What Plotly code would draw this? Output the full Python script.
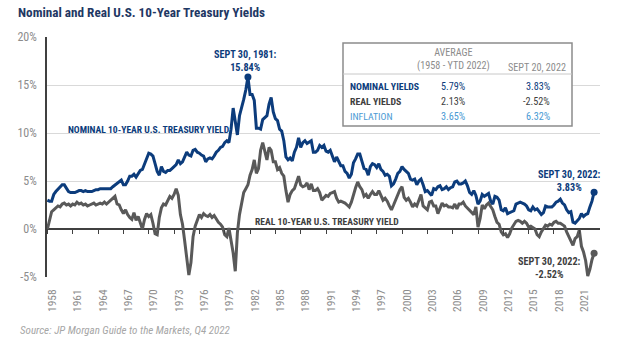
import plotly.graph_objects as go

# ---------------- data (quarterly readings, Q1..Q4 each year) ----------------
years = list(range(1958, 2023))

nominal_q = [
    [3.0, 2.9, 2.9, 3.6], [3.9, 4.1, 4.4, 4.6], [4.6, 4.3, 3.9, 3.8], [3.8, 3.8, 3.9, 4.0],
    [4.0, 3.9, 4.0, 3.9], [3.9, 3.9, 4.0, 4.1], [4.1, 4.2, 4.2, 4.2], [4.2, 4.2, 4.2, 4.4],
    [4.6, 4.8, 5.0, 5.1], [4.6, 4.6, 5.0, 5.5], [5.5, 5.7, 5.4, 5.7], [6.1, 6.2, 6.8, 7.3],
    [7.9, 7.8, 7.6, 6.8], [6.0, 5.6, 6.5, 6.0], [5.9, 6.1, 6.1, 6.3], [6.5, 6.7, 7.2, 6.8],
    [7.0, 7.5, 8.0, 7.7], [7.6, 8.2, 8.3, 8.0], [7.9, 7.7, 7.6, 7.0], [7.3, 7.4, 7.3, 7.6],
    [8.0, 8.2, 8.5, 8.6], [9.0, 9.2, 9.0, 10.4], [12.6, 11.2, 9.8, 11.8], [12.6, 13.5, 14.5, 15.84],
    [14.0, 14.0, 13.4, 10.5], [10.5, 10.4, 11.4, 11.6], [11.8, 13.0, 13.7, 12.2], [11.5, 11.3, 10.4, 10.2],
    [9.2, 7.5, 7.2, 7.4], [7.1, 8.0, 8.5, 9.5], [8.5, 9.0, 9.2, 8.9], [9.1, 9.2, 8.0, 8.0],
    [8.2, 8.7, 8.5, 8.7], [8.1, 8.0, 8.2, 7.5], [7.0, 7.5, 7.0, 6.6], [6.6, 6.0, 5.8, 5.3],
    [5.7, 6.9, 7.3, 7.8], [7.8, 7.1, 6.3, 6.2], [5.6, 6.5, 6.8, 6.7], [6.4, 6.8, 6.2, 6.0],
    [5.6, 5.7, 5.5, 4.5], [4.7, 5.2, 5.8, 6.0], [6.5, 6.2, 6.0, 5.8], [5.2, 5.1, 5.2, 4.6],
    [5.0, 5.2, 4.6, 3.9], [4.0, 3.8, 3.5, 4.2], [4.1, 4.4, 4.5, 4.1], [4.2, 4.4, 4.1, 4.3],
    [4.4, 4.9, 5.0, 4.7], [4.7, 4.8, 5.0, 4.5], [3.8, 3.6, 4.0, 3.5], [2.6, 2.9, 3.6, 3.4],
    [3.6, 3.7, 2.9, 2.6], [3.4, 3.3, 3.0, 2.0], [1.9, 2.2, 1.6, 1.7], [1.8, 1.9, 2.6, 2.7],
    [2.8, 2.7, 2.6, 2.4], [2.0, 1.9, 2.3, 2.0], [2.1, 1.8, 1.5, 1.7], [2.4, 2.3, 2.3, 2.3],
    [2.5, 2.8, 2.9, 3.1], [2.7, 2.5, 2.0, 1.7], [1.8, 0.7, 0.6, 0.8], [1.1, 1.6, 1.3, 1.5],
    [1.6, 2.3, 2.9, 3.83],
]

real_q = [
    [0.0, 0.8, 1.8, 2.0], [2.2, 2.4, 2.3, 2.6], [2.7, 2.5, 2.6, 2.4], [2.6, 2.5, 2.8, 2.6],
    [2.7, 2.5, 2.6, 2.4], [2.5, 2.6, 2.7, 2.5], [2.6, 2.7, 2.6, 2.8], [2.6, 2.8, 3.0, 3.2],
    [3.4, 2.6, 2.5, 2.0], [1.6, 2.0, 1.5, 1.2], [1.0, 1.7, 0.9, 1.3], [0.6, 0.0, 1.0, 1.6],
    [1.3, 1.5, 0.6, -0.5], [-0.6, 1.2, 2.2, 2.6], [2.5, 3.0, 3.4, 3.2], [3.6, 4.2, 3.5, 1.5],
    [0.5, -1.2, -3.0, -4.8], [-3.5, -0.8, 0.3, 1.0], [1.5, 1.2, 1.6, 1.4], [1.3, 1.5, 1.2, 1.4],
    [1.0, 0.7, 0.5, 0.2], [-0.6, -0.8, 0.1, -1.2], [-2.5, -4.4, -0.4, 1.5], [2.7, 3.8, 4.2, 4.6],
    [5.6, 6.2, 7.2, 5.8], [6.3, 8.2, 9.0, 8.1], [7.2, 8.5, 8.2, 7.0], [7.0, 6.2, 6.4, 5.8],
    [5.5, 4.0, 2.8, 3.6], [4.0, 4.2, 4.8, 5.5], [4.6, 4.4, 4.5, 4.8], [4.1, 4.7, 4.0, 4.0],
    [4.2, 3.8, 3.0, 3.2], [3.5, 3.4, 3.7, 3.8], [3.9, 3.2, 2.8, 2.9], [2.8, 2.7, 2.5, 2.3],
    [2.8, 3.7, 4.3, 4.9], [4.4, 4.1, 3.4, 3.6], [3.2, 3.6, 3.9, 3.6], [3.6, 4.0, 3.5, 3.0],
    [3.2, 2.9, 2.4, 2.0], [2.5, 3.0, 3.6, 4.1], [4.4, 3.3, 3.0, 3.2], [2.8, 2.3, 2.6, 2.4],
    [3.0, 3.6, 2.4, 2.2], [2.0, 2.8, 2.9, 2.4], [2.4, 1.6, 2.2, 2.7], [2.4, 2.5, 2.3, 2.3],
    [2.2, 2.6, 2.1, 2.6], [2.6, 2.8, 2.4, 2.2], [2.0, 1.8, 1.5, 2.3], [0.2, 1.1, 2.5, 2.1],
    [2.5, 2.7, 2.4, 2.0], [1.3, 0.7, 0.5, -0.3], [-0.6, -0.5, -0.9, -0.5], [0.1, 0.4, 0.8, 0.9],
    [0.8, 0.6, 0.8, 0.6], [0.2, 0.3, 0.1, 0.0], [-0.6, -0.8, -0.3, 0.1], [0.4, 0.3, 0.5, 0.4],
    [0.7, 0.8, 0.6, 0.6], [0.4, 0.3, -0.3, -0.8], [-1.2, -1.7, -1.0, -0.8], [-0.1, -1.8, -2.4, -3.3],
    [-4.9, -4.2, -3.2, -2.52],
]

quarters = [0.0, 0.25, 0.5, 0.75]
tick_years = list(range(1958, 2022, 3))
tick_labels = [str(y) for y in tick_years]
y_ticks = [-5, 0, 5, 10, 15, 20]
y_tick_labels = [f"{v}%" for v in y_ticks]

peak_1981 = (1981.75, 15.84)
end_nominal = (2022.75, 3.83)
end_real = (2022.75, -2.52)

table_header = ["AVERAGE<br>(1958 - YTD 2022)", "SEPT 20, 2022"]
table_rows = ["NOMINAL YIELDS", "REAL YIELDS", "INFLATION"]
table_avg = ["5.79%", "2.13%", "3.65%"]
table_now = ["3.83%", "-2.52%", "6.32%"]

# ---------------- build series ----------------
x = []
nominal = []
real = []
for yr, nq, rq in zip(years, nominal_q, real_q):
    for q, nv, rv in zip(quarters, nq, rq):
        x.append(yr + q)
        nominal.append(nv)
        real.append(rv)

NAVY = "#0c3c7c"
GRAY = "#595959"
LIGHTBLUE = "#4a9ad4"
FONT = "Liberation Sans Narrow, Roboto Condensed, Arial Narrow, Liberation Sans, sans-serif"
BOLD = FONT

W, H = 624, 342
L, R, T, B = 47, 24, 37, 65

fig = go.Figure()
fig.add_trace(go.Scatter(x=x, y=real, mode="lines", line=dict(color=GRAY, width=3),
                         hoverinfo="skip", showlegend=False))
fig.add_trace(go.Scatter(x=x, y=nominal, mode="lines", line=dict(color=NAVY, width=3),
                         hoverinfo="skip", showlegend=False))
fig.add_trace(go.Scatter(x=[peak_1981[0], end_nominal[0]], y=[peak_1981[1], end_nominal[1]],
                         mode="markers", marker=dict(color=NAVY, size=7),
                         hoverinfo="skip", showlegend=False))
fig.add_trace(go.Scatter(x=[end_real[0]], y=[end_real[1]], mode="markers",
                         marker=dict(color=GRAY, size=7), hoverinfo="skip", showlegend=False))
# helper trace for the tick axis on the zero line
fig.add_trace(go.Scatter(x=[tick_years[0], tick_years[-1]], y=[0, 0], xaxis="x2", mode="lines",
                         line=dict(color="rgba(0,0,0,0)", width=0), hoverinfo="skip",
                         showlegend=False))

xr = [1957.95, 2023.45]
fig.update_layout(
    width=W, height=H,
    margin=dict(l=L, r=R, t=T, b=B),
    paper_bgcolor="white", plot_bgcolor="white",
    title=dict(text="<b>Nominal and Real U.S. 10-Year Treasury Yields</b>",
               x=18 / W, xanchor="left", y=1 - 12 / H, yanchor="middle",
               font=dict(family=BOLD, size=13.2, color="#1f3864")),
    xaxis=dict(range=xr, tickvals=tick_years, ticktext=tick_labels, tickangle=-90,
               showgrid=False, zeroline=False, showline=False,
               ticks="", ticklabelstandoff=9, ticklabelshift=5,
               tickfont=dict(family=FONT, size=11.5, color="#8c8c8c")),
    xaxis2=dict(range=xr, overlaying="x", anchor="free", position=0.2, side="bottom",
                tickvals=tick_years, showticklabels=False, showgrid=False, zeroline=False,
                showline=False, ticks="outside", ticklen=4, tickwidth=1.3, tickcolor="#404040"),
    yaxis=dict(range=[-5, 20], tickvals=y_ticks, ticktext=y_tick_labels,
               showgrid=True, gridcolor="#d9d9d9", gridwidth=1.3,
               zeroline=True, zerolinecolor="#404040", zerolinewidth=1.5,
               showline=True, linecolor="#404040", linewidth=1.5,
               ticks="outside", ticklen=6, tickcolor="rgba(0,0,0,0)",
               tickfont=dict(family=FONT, size=12, color="#8c8c8c")),
)

def px_x(p):
    return (p - L) / (W - L - R)

def px_y(p):
    return (H - B - p) / (H - T - B)

ann = []
ann.append(dict(x=1960.25, y=10.4, xref="x", yref="y", xanchor="left", yanchor="middle",
                text="<b>NOMINAL 10-YEAR U.S. TREASURY YIELD</b>", showarrow=False,
                font=dict(family=BOLD, size=9.6, color=NAVY)))
ann.append(dict(x=1982.35, y=0.75, xref="x", yref="y", xanchor="left", yanchor="middle",
                text="<b>REAL 10-YEAR U.S. TREASURY YIELD</b>", showarrow=False,
                font=dict(family=BOLD, size=9.6, color="#404040")))
ann.append(dict(x=1981.5, y=17.5, xref="x", yref="y", xanchor="center", yanchor="middle",
                text="<b>SEPT 30, 1981:<br>15.84%</b>", showarrow=False,
                font=dict(family=BOLD, size=10.2, color=NAVY)))
ann.append(dict(x=2019.85, y=4.95, xref="x", yref="y", xanchor="center", yanchor="middle",
                text="<b>SEPT 30, 2022:<br>3.83%</b>", showarrow=False,
                font=dict(family=BOLD, size=10.2, color=NAVY)))
ann.append(dict(x=2017.5, y=-4.1, xref="x", yref="y", xanchor="center", yanchor="middle",
                text="<b>SEPT 30, 2022:<br>-2.52%</b>", showarrow=False,
                font=dict(family=BOLD, size=10.2, color="#404040")))

# table box
shapes = [
    dict(type="rect", xref="paper", yref="paper", x0=px_x(343), x1=px_x(572),
         y0=px_y(126), y1=px_y(43), line=dict(color="#8c8c8c", width=1.5),
         fillcolor="white", layer="above"),
    dict(type="line", xref="paper", yref="paper", x0=px_x(343), x1=px_x(572),
         y0=px_y(74), y1=px_y(74), line=dict(color="#c8c8c8", width=1), layer="above"),
]
ann.append(dict(x=px_x(453), y=px_y(59), xref="paper", yref="paper", xanchor="center",
                yanchor="middle", text=table_header[0], showarrow=False,
                font=dict(family=FONT, size=10.2, color="#8c8c8c")))
ann.append(dict(x=px_x(537), y=px_y(67), xref="paper", yref="paper", xanchor="center",
                yanchor="middle", text=table_header[1], showarrow=False,
                font=dict(family=FONT, size=10.2, color="#8c8c8c")))
row_colors = [NAVY, "#404040", LIGHTBLUE]
row_y = [86, 101, 116]
for i, (lab, a, b) in enumerate(zip(table_rows, table_avg, table_now)):
    weight_lab = f"<b>{lab}</b>" if i < 2 else lab
    ann.append(dict(x=px_x(348), y=px_y(row_y[i]), xref="paper", yref="paper",
                    xanchor="left", yanchor="middle", text=weight_lab, showarrow=False,
                    font=dict(family=BOLD, size=9.8, color=row_colors[i])))
    ann.append(dict(x=px_x(453), y=px_y(row_y[i]), xref="paper", yref="paper",
                    xanchor="center", yanchor="middle", text=a, showarrow=False,
                    font=dict(family=FONT, size=10.2, color=row_colors[i])))
    ann.append(dict(x=px_x(552), y=px_y(row_y[i]), xref="paper", yref="paper",
                    xanchor="right", yanchor="middle", text=b, showarrow=False,
                    font=dict(family=FONT, size=10.2, color=row_colors[i])))

ann.append(dict(x=px_x(18), y=px_y(330), xref="paper", yref="paper", xanchor="left",
                yanchor="middle", text="<i>Source: JP Morgan Guide to the Markets, Q4 2022</i>",
                showarrow=False, font=dict(family=FONT, size=11, color="#a6a6a6")))

fig.update_layout(annotations=ann, shapes=shapes)
fig.write_html("out.html")
